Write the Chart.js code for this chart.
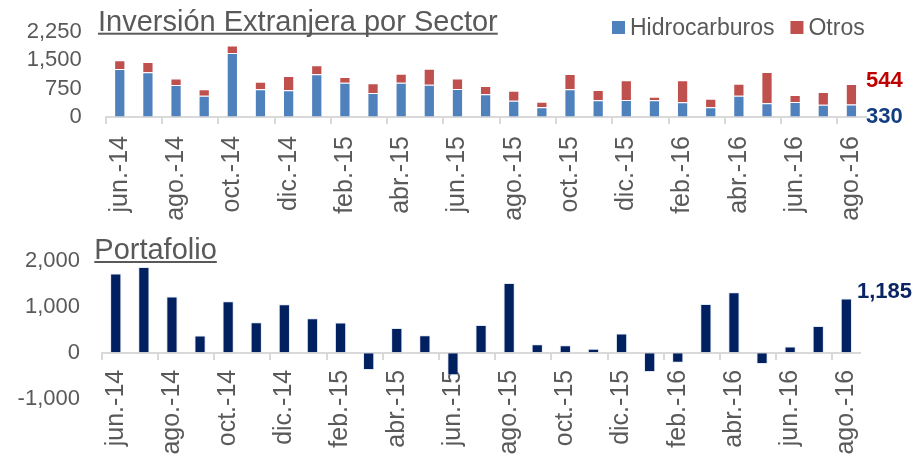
<!DOCTYPE html>
<html>
<head>
<meta charset="utf-8">
<script src="https://cdn.jsdelivr.net/npm/chart.js@4.4.1/dist/chart.umd.min.js"></script>
<style>
  body { margin: 0; background: #fff; }
  #wrap { position: relative; width: 922px; height: 463px; }
  #c1 { position: absolute; left: 0; top: 0; }
  #c2 { position: absolute; left: 0; top: 230px; }
</style>
</head>
<body>
<div id="wrap">
  <canvas id="c1" width="922" height="230"></canvas>
  <canvas id="c2" width="922" height="233"></canvas>
</div>
<script>
// months shown on both charts (every other one gets a label)
const months = ['jun.-14', 'jul.-14', 'ago.-14', 'sep.-14', 'oct.-14', 'nov.-14', 'dic.-14',
  'ene.-15', 'feb.-15', 'mar.-15', 'abr.-15', 'may.-15', 'jun.-15', 'jul.-15', 'ago.-15',
  'sep.-15', 'oct.-15', 'nov.-15', 'dic.-15', 'ene.-16', 'feb.-16', 'mar.-16', 'abr.-16',
  'may.-16', 'jun.-16', 'jul.-16', 'ago.-16'];

// Inversion extranjera por sector
const hidrocarburos = [1272, 1184, 848, 565, 1696, 733, 707, 1131, 909, 636, 909, 856, 742, 601,
  433, 256, 733, 442, 451, 442, 389, 256, 565, 362, 398, 327, 330];
const otros = [230, 273, 168, 168, 194, 203, 380, 239, 151, 257, 239, 424, 274, 221,
  264, 150, 407, 274, 521, 97, 583, 230, 318, 831, 185, 336, 544];

// Portafolio
const portafolio = [1725, 1870, 1225, 377, 1123, 667, 1058, 754, 659, -377, 543, 384, -490, 608,
  1520, 188, 167, 87, 420, -420, -217, 1063, 1317, -246, 138, 586, 1185];

// y axis ticks
const topTicks = [0, 750, 1500, 2250];
const bottomTicks = [-1000, 0, 1000, 2000];

const FONT = "'Liberation Sans', Arial, sans-serif";
const GRAY = '#595959';
const AXIS = '#D9D9D9';
const EDGE = 'rgba(255,255,255,0.35)'; //faint light outline around the bars
Chart.defaults.font.family = FONT;
Chart.defaults.color = GRAY;

const fmt = v => Number(v).toLocaleString('en-US');

//title with the underline drawn below it
function underlinedTitle(text, x, baseline, size) {
  return {
    id: 'utitle',
    afterDraw(chart) {
      const ctx = chart.ctx;
      ctx.save();
      ctx.font = size + 'px ' + FONT;
      ctx.fillStyle = GRAY;
      ctx.textBaseline = 'alphabetic';
      ctx.fillText(text, x, baseline);
      const w = ctx.measureText(text).width;
      ctx.fillRect(x, baseline + 2, w, 2);
      ctx.restore();
    }
  };
}

//legend sits on the same line as the title, so it's drawn by hand
const sideLegend = {
  id: 'sideLegend',
  afterDraw(chart) {
    const ctx = chart.ctx;
    ctx.save();
    ctx.font = '23px ' + FONT;
    ctx.textBaseline = 'alphabetic';
    let x = 612;
    chart.data.datasets.forEach(ds => {
      ctx.fillStyle = ds.backgroundColor;
      ctx.fillRect(x, 21, 13, 13);
      ctx.fillStyle = GRAY;
      ctx.fillText(ds.label, x + 18, 35);
      x += 18 + ctx.measureText(ds.label).width + 16;
    });
    ctx.restore();
  }
};

//last values written to the right of the last bar
const lastLabelsTop = {
  id: 'lastLabelsTop',
  afterDatasetsDraw(chart) {
    const ctx = chart.ctx;
    const y = chart.scales.y;
    const i = months.length - 1;
    const bar = chart.getDatasetMeta(1).data[i];
    const x = bar.x + bar.width / 2 + 9;
    ctx.save();
    ctx.font = 'bold 22px ' + FONT;
    ctx.textBaseline = 'middle';
    ctx.fillStyle = '#C00000';
    ctx.fillText(fmt(otros[i]), x, y.getPixelForValue(hidrocarburos[i] + otros[i]) - 3);
    ctx.fillStyle = '#123E80';
    ctx.fillText(fmt(hidrocarburos[i]), x, y.getPixelForValue(0));
    ctx.restore();
  }
};

const lastLabelBottom = {
  id: 'lastLabelBottom',
  afterDatasetsDraw(chart) {
    const ctx = chart.ctx;
    const i = months.length - 1;
    const bar = chart.getDatasetMeta(0).data[i];
    ctx.save();
    ctx.font = 'bold 22px ' + FONT;
    ctx.textBaseline = 'middle';
    ctx.fillStyle = '#0B2463';
    ctx.fillText(fmt(portafolio[i]), bar.x + bar.width / 2 + 5, chart.scales.y.getPixelForValue(portafolio[i]) - 6);
    ctx.restore();
  }
};

//shared x axis setup: tick mark every two months, labels rotated
function monthAxis(tickLength, padding) {
  return {
    offset: true,
    grid: {
      offset: true,
      drawOnChartArea: false,
      drawTicks: true,
      tickLength: tickLength,
      lineWidth: 2,
      tickColor: c => c.index % 2 === 0 ? AXIS : 'rgba(0,0,0,0)'
    },
    border: { color: AXIS, width: 2 },
    ticks: {
      autoSkip: false,
      maxRotation: 90,
      minRotation: 90,
      padding: padding,
      font: { size: 25 },
      color: GRAY,
      callback: (v, i) => i % 2 === 0 ? months[i] : ''
    }
  };
}

//value axis: gap to the plot is an invisible tick mark, ticks.padding would push the plot top down
function valueAxis(ticks, gap, width) {
  return {
    min: ticks[0],
    max: ticks[ticks.length - 1],
    afterBuildTicks: s => { s.ticks = ticks.map(v => ({ value: v })); },
    ticks: { autoSkip: false, padding: 0, font: { size: 22 }, color: GRAY, callback: v => fmt(v) },
    grid: { drawOnChartArea: false, drawTicks: true, tickLength: gap, tickColor: 'rgba(0,0,0,0)' },
    border: { display: false },
    afterFit: s => { s.width = width; }
  };
}

const topX = monthAxis(7, 12);
topX.stacked = true;
topX.afterFit = s => { s.height = 113; };
const topY = valueAxis(topTicks, 24, 105.7);
topY.stacked = true;

const chart1 = new Chart(document.getElementById('c1'), {
  type: 'bar',
  data: {
    labels: months,
    datasets: [
      { label: 'Hidrocarburos', data: hidrocarburos, backgroundColor: '#4F81BD' },
      { label: 'Otros', data: otros, backgroundColor: '#C0504D' }
    ]
  },
  options: {
    responsive: false,
    animation: false,
    devicePixelRatio: 1,
    locale: 'en-US',
    layout: { padding: { top: 32, left: 0, right: 922 - 865.5, bottom: 0 } },
    datasets: { bar: { barPercentage: 0.4, categoryPercentage: 1, borderWidth: 1, borderColor: EDGE } },
    plugins: { legend: { display: false }, tooltip: { enabled: false } },
    scales: { x: topX, y: topY }
  },
  plugins: [underlinedTitle('Inversión Extranjera por Sector', 98, 30.7, 29), sideLegend, lastLabelsTop]
});

const bottomX = monthAxis(6, 11);
bottomX.position = { y: 0 }; //axis sits on the zero line, labels hang over the negative part

const chart2 = new Chart(document.getElementById('c2'), {
  type: 'bar',
  data: {
    labels: months,
    datasets: [{ label: 'Portafolio', data: portafolio, backgroundColor: '#002060' }]
  },
  options: {
    responsive: false,
    animation: false,
    devicePixelRatio: 1,
    locale: 'en-US',
    layout: { padding: { top: 31, left: 0, right: 922 - 860.4, bottom: 233 - 168.7 } },
    datasets: { bar: { barPercentage: 0.4, categoryPercentage: 1, borderWidth: 1, borderColor: 'rgba(200,210,235,0.5)' } },
    plugins: { legend: { display: false }, tooltip: { enabled: false } },
    scales: { x: bottomX, y: valueAxis(bottomTicks, 21.7, 101.7) }
  },
  plugins: [underlinedTitle('Portafolio', 94.3, 29, 29), lastLabelBottom]
});
</script>
</body>
</html>
